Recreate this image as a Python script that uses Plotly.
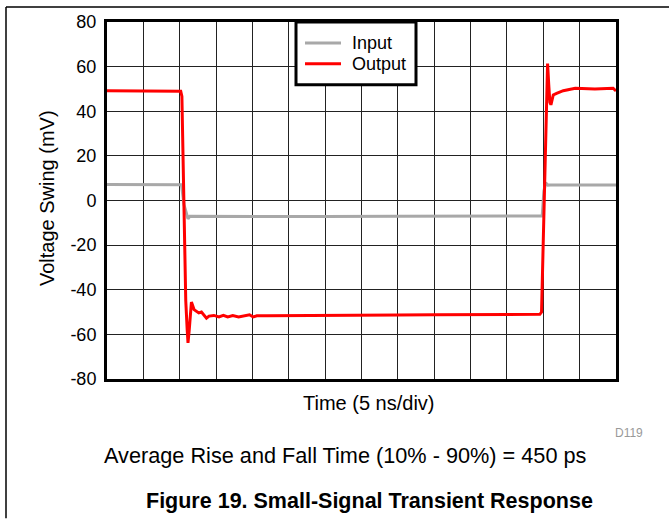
import plotly.graph_objects as go

# Time axis in ns (5 ns/div, 14 divisions)
t_input = [0, 10.0, 10.24, 10.6, 11.14, 11.38, 20, 30, 40, 50, 59.5, 59.85, 60.08, 60.32, 60.63, 61.0, 70]
v_input = [7.2, 7.2, 7.1, -2.0, -8.2, -7.1, -7.2, -7.2, -7.1, -7.0, -6.9, -6.9, 4.2, 7.9, 6.9, 7.0, 7.0]

t_output = [0, 5, 10.0, 10.14, 10.3, 10.46, 10.83, 11.03, 11.14, 11.31, 11.61, 11.97, 12.3, 12.62, 12.99,
            13.35, 13.68, 14.03, 14.7, 15.4, 16.0, 16.6, 17.3, 18.1, 19.6, 20.1, 20.6, 22, 25, 30, 35, 40,
            45, 50, 55, 59.3, 59.53, 59.76, 59.9, 60.0, 60.1, 60.2, 60.4, 60.59, 60.75, 60.91, 61.05,
            61.37, 61.83, 62.75, 64.4, 67.1, 69.6, 70]
v_output = [49.2, 49.2, 49.2, 49.0, 46.6, 13.1, -44.8, -58.0, -63.8, -58.0, -45.5, -48.9, -49.5, -50.4, -50.0,
            -51.5, -52.7, -51.8, -51.5, -52.2, -51.5, -52.2, -51.6, -52.2, -51.2, -52.2, -51.7, -51.6, -51.6, -51.5, -51.4, -51.3,
            -51.2, -51.1, -51.0, -51.0, -51.0, -50.0, -31.4, -16.6, -1.7, 13.1, 39.9, 61.4, 52.0, 44.0, 42.9,
            47.3, 48.0, 49.2, 50.3, 50.0, 50.3, 49.1]

y_ticks = [-80, -60, -40, -20, 0, 20, 40, 60, 80]
series_names = ["Input", "Output"]
series_colors = ["#A8A8A8", "#FF0000"]

FONT = "Liberation Sans, Arial, sans-serif"

fig = go.Figure()
fig.add_trace(go.Scatter(x=t_input, y=v_input, mode="lines", name=series_names[0],
                         line=dict(color=series_colors[0], width=3)))
fig.add_trace(go.Scatter(x=t_output, y=v_output, mode="lines", name=series_names[1],
                         line=dict(color=series_colors[1], width=3)))

L, R, T, B = 107, 53, 20, 140
W, H = 669, 519
pw, ph = W - L - R, H - T - B

def px(x):
    return (x - L) / pw

def py(y):
    return (H - B - y) / ph

fig.update_layout(
    width=W, height=H,
    margin=dict(l=L, r=R, t=T, b=B),
    paper_bgcolor="white", plot_bgcolor="white",
    font=dict(family=FONT, color="black"),
    showlegend=False,
    xaxis=dict(range=[0, 70], dtick=5, tick0=0, showticklabels=False, ticks="",
               showgrid=True, gridcolor="#222222", gridwidth=1,
               showline=True, mirror=True, linecolor="black", linewidth=3, zeroline=False),
    yaxis=dict(range=[-80, 80], tickvals=y_ticks, ticktext=[str(v) for v in y_ticks], ticks="",
               tickfont=dict(size=18, family=FONT, color="black"), ticklabelstandoff=4,
               showgrid=True, gridcolor="#222222", gridwidth=1,
               showline=True, mirror=True, linecolor="black", linewidth=3, zeroline=False),
)

# legend box (drawn manually to match the compact spacing)
fig.add_shape(type="rect", xref="paper", yref="paper", x0=px(296), x1=px(416), y0=py(83), y1=py(20),
              line=dict(color="black", width=3), fillcolor="white", layer="above")
for i, (name, col) in enumerate(zip(series_names, series_colors)):
    yy = 41 + 21 * i
    fig.add_shape(type="line", xref="paper", yref="paper", x0=px(305), x1=px(341), y0=py(yy), y1=py(yy),
                  line=dict(color=col, width=3), layer="above")
    fig.add_annotation(xref="paper", yref="paper", x=px(350), y=py(yy), text=name, showarrow=False,
                       xanchor="left", yanchor="middle", font=dict(size=18))

annotations = [
    dict(text="Voltage Swing (mV)", x=px(47), y=py(197), textangle=-90, font=dict(size=20)),
    dict(text="Time (5 ns/div)", x=px(369), y=py(403), font=dict(size=20)),
    dict(text="D119", x=px(645), y=py(433), xanchor="right", font=dict(size=12, color="#999999")),
    dict(text="Average Rise and Fall Time (10% - 90%) = 450 ps", x=px(345), y=py(456), font=dict(size=21.7)),
    dict(text="<b>Figure 19. Small-Signal Transient Response</b>", x=px(369), y=py(502), font=dict(size=21.5)),
]
for a in annotations:
    a.setdefault("xanchor", "center")
    fig.add_annotation(xref="paper", yref="paper", showarrow=False, yanchor="middle", **a)

# page frame lines
fig.add_shape(type="line", xref="paper", yref="paper", x0=px(6), x1=px(669), y0=py(5), y1=py(5),
              line=dict(color="black", width=1.5))
fig.add_shape(type="line", xref="paper", yref="paper", x0=px(6), x1=px(6), y0=py(5), y1=py(519),
              line=dict(color="black", width=1.5))

fig.write_html("out.html", config={"displayModeBar": False},
               post_script="document.body.style.margin='0';document.body.style.overflow='hidden';")
